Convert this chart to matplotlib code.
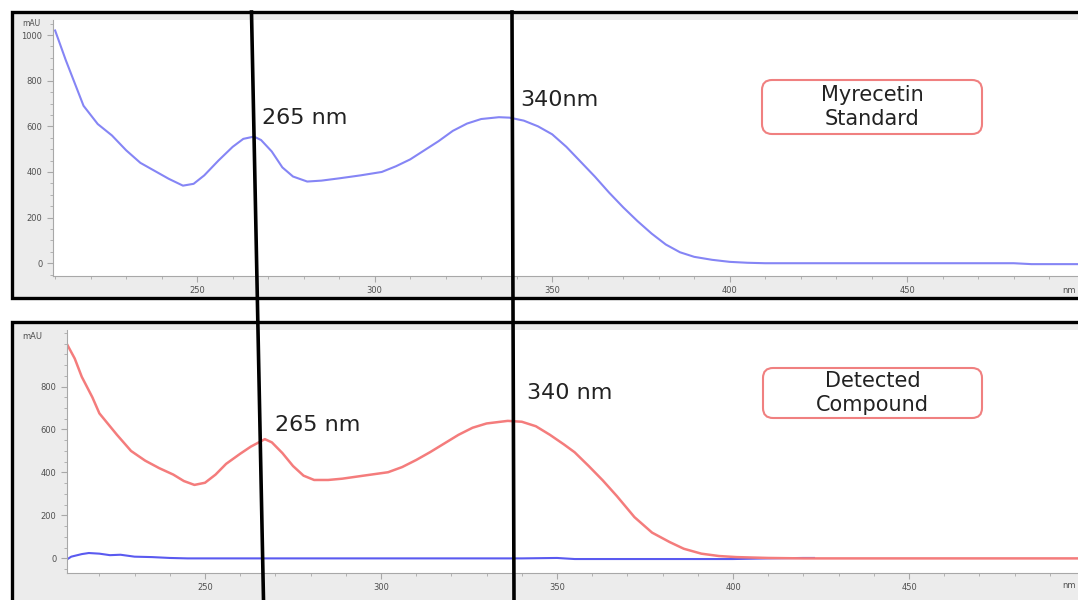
import matplotlib.pyplot as plt
from matplotlib.patches import Rectangle, FancyBboxPatch
from matplotlib.lines import Line2D
from matplotlib.ticker import MultipleLocator

# Myricetin standard spectrum (top panel)
std_nm = [210, 213, 218, 222, 226, 230, 234, 238, 242, 246, 249, 252, 256, 260, 263,
          266, 268, 271, 274, 277, 281, 285, 290, 296, 302, 306, 310, 314, 318, 322,
          326, 330, 335, 338, 342, 346, 350, 354, 358, 362, 366, 370, 374, 378, 382,
          386, 390, 395, 400, 405, 410, 450, 480, 485, 498]
std_mau = [1020, 890, 690, 610, 560, 495, 440, 405, 370, 340, 348, 385, 450, 510, 545,
           555, 540, 490, 420, 380, 358, 362, 372, 385, 400, 425, 455, 495, 535, 580,
           612, 632, 640, 638, 625, 600, 565, 510, 445, 380, 310, 245, 185, 130, 82,
           48, 28, 15, 6, 2, 0, 0, 0, -4, -4]

# detected compound (bottom panel, red)
cmp_nm = [210.5, 213, 215, 218, 220, 225, 229, 233, 237, 241, 244, 247, 250, 253, 256,
          260, 263, 267, 269, 272, 275, 278, 281, 285, 289, 295, 302, 306, 310, 314,
          318, 322, 326, 330, 336, 340, 344, 348, 352, 355, 359, 363, 367, 372, 377,
          382, 386, 391, 396, 401, 410, 420, 498]
cmp_mau = [1006, 930, 845, 750, 675, 575, 500, 455, 420, 390, 360, 342, 352, 390, 440,
           487, 520, 555, 540, 490, 430, 385, 365, 365, 371, 385, 401, 425, 458, 495,
           535, 575, 608, 628, 640, 636, 615, 575, 530, 494, 430, 363, 290, 192, 120,
           76, 45, 22, 11, 6, 2, 0, 0]

# second channel (bottom panel, blue)
blank_nm = [210.5, 212, 215, 217, 220, 223, 226, 230, 235, 240, 245, 300, 340, 350,
            355, 400, 410, 420, 423]
blank_mau = [-8, 8, 20, 25, 22, 15, 17, 8, 6, 2, 0, 0, 0, 2, -3, -3, 0, 2, 2]

W, H = 1078, 600


def fx(px):
    return px / W


def fy(py):
    return 1 - py / H


fig = plt.figure(figsize=(W / 100, H / 100), dpi=100)
fig.patch.set_facecolor('white')

# grey panel backgrounds + black frames
for top, bot in [(12, 298), (322, 640)]:
    fig.add_artist(Rectangle((fx(12), fy(bot)), fx(1200 - 12), fy(top) - fy(bot),
                             transform=fig.transFigure, facecolor='#ececec',
                             edgecolor='black', lw=2.4, zorder=0))


def style_axes(ax, ymax_label):
    ax.set_facecolor('white')
    for s in ['top', 'right']:
        ax.spines[s].set_visible(False)
    for s in ['left', 'bottom']:
        ax.spines[s].set_color('#a8a8a8')
        ax.spines[s].set_linewidth(0.8)
    ax.xaxis.set_major_locator(MultipleLocator(50))
    ax.xaxis.set_minor_locator(MultipleLocator(10))
    ax.yaxis.set_major_locator(MultipleLocator(200))
    ax.yaxis.set_minor_locator(MultipleLocator(50))
    ax.tick_params(which='both', colors='#a8a8a8', labelcolor='#505050', labelsize=6)
    ax.tick_params(which='major', length=4)
    ax.tick_params(which='minor', length=2)
    ax.set_xticks([250, 300, 350, 400, 450])
    yt = list(range(0, ymax_label + 1, 200))
    ax.set_yticks(yt)
    ax.set_yticklabels([str(v) for v in yt])


# top panel
ax1 = fig.add_axes([fx(53), fy(276), fx(W - 53), fy(20) - fy(276)])
ax1.plot(std_nm, std_mau, color='#8585f5', lw=1.5)
ax1.set_xlim(209.4, 498.1)
ax1.set_ylim(-56, 1066)
style_axes(ax1, 1000)
fig.text(fx(31), fy(24), 'mAU', fontsize=5.5, color='#505050', ha='center', va='center')
fig.text(fx(1076), fy(290), 'nm', fontsize=6, color='#505050', ha='right', va='center')

# bottom panel
ax2 = fig.add_axes([fx(67), fy(573), fx(W - 67), fy(330) - fy(573)])
ax2.plot(blank_nm, blank_mau, color='#5a5af0', lw=1.5)
ax2.plot(cmp_nm, cmp_mau, color='#f47c7c', lw=1.8)
ax2.set_xlim(210.8, 498)
ax2.set_ylim(-68, 1063)
style_axes(ax2, 800)
fig.text(fx(32), fy(336), 'mAU', fontsize=6, color='#505050', ha='center', va='center')
fig.text(fx(1076), fy(586), 'nm', fontsize=6, color='#505050', ha='right', va='center')

# wavelength marker lines
fig.add_artist(Line2D([fx(251.5), fx(263.5)], [fy(12), fy(600)],
                      transform=fig.transFigure, color='black', lw=2.6, zorder=5))
fig.add_artist(Line2D([fx(512), fx(514)], [fy(12), fy(600)],
                      transform=fig.transFigure, color='black', lw=2.6, zorder=5))

lab = dict(fontsize=16, color='#222222', va='center', ha='left')
fig.text(fx(262), fy(118), '265 nm', **lab)
fig.text(fx(520), fy(100), '340nm', **lab)
fig.text(fx(275), fy(425), '265 nm', **lab)
fig.text(fx(527), fy(393), '340 nm', **lab)

# annotation boxes
for (x0, y0, x1, y1, txt) in [(762, 80, 982, 134, 'Myrecetin\nStandard'),
                              (763, 368, 982, 418, 'Detected\nCompound')]:
    fig.add_artist(FancyBboxPatch((x0 / 100, (H - y1) / 100), (x1 - x0) / 100,
                                  (y1 - y0) / 100,
                                  boxstyle='round,pad=0,rounding_size=0.1',
                                  transform=fig.dpi_scale_trans, facecolor='white',
                                  edgecolor='#f08080', lw=1.5, zorder=4))
    fig.text(fx((x0 + x1) / 2), fy((y0 + y1) / 2), txt, fontsize=15, color='#222222',
             ha='center', va='center', linespacing=1.3, zorder=6)

fig.savefig('out.png', dpi=100)
